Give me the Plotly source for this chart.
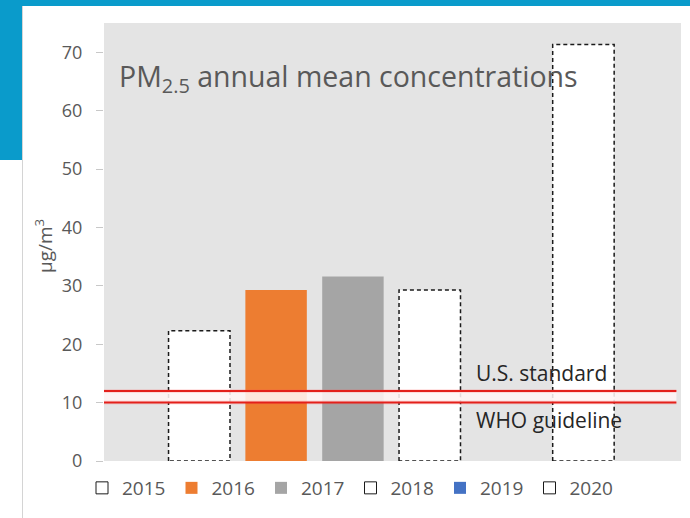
import plotly.graph_objects as go

# PM2.5 annual means by year (µg/m³); no value reported for 2019
years = ["2015", "2016", "2017", "2018", "2019", "2020"]
pm25 = [22.3, 29.3, 31.6, 29.3, None, 71.3]
fill_colors = ["white", "#ED7D31", "#A5A5A5", "white", "#4472C4", "white"]
dashed_outline = [True, False, False, True, False, True]

# Reference limits (µg/m³)
us_standard = 12
who_guideline = 10

y_ticks = [0, 10, 20, 30, 40, 50, 60, 70]

FONT = "Open Sans"
W, H = 690, 518
L, R, T, B = 104, 9, 23, 57
BAR_W = 0.8


def px_to_paper_x(px):
    return (px - L) / (W - L - R)


def px_to_paper_y(py):
    return (H - B - py) / (H - T - B)


fig = go.Figure()

for i, (yr, val, col, dashed) in enumerate(zip(years, pm25, fill_colors, dashed_outline)):
    fig.add_trace(go.Bar(
        x=[i], y=[val], width=BAR_W, name=yr,
        marker=dict(color=col, line=dict(width=0)),
        showlegend=not dashed, legendrank=i,
    ))
    if dashed and val is not None:
        x0, x1 = i - BAR_W / 2, i + BAR_W / 2
        fig.add_trace(go.Scatter(
            x=[x0, x0, x1, x1, x0], y=[0, val, val, 0, 0],
            mode="lines", showlegend=False, hoverinfo="skip",
            line=dict(color="#1a1a1a", width=1.5, dash="4px,3px"),
        ))
        # legend key: white box with dark outline
        fig.add_trace(go.Bar(
            x=[None], y=[None], name=yr, legendrank=i,
            marker=dict(color="white", line=dict(color="#1a1a1a", width=1)),
        ))

shapes = [
    # pale band between the two limit lines
    dict(type="rect", xref="paper", yref="y", x0=0, x1=0.992, y0=who_guideline,
         y1=us_standard, fillcolor="rgba(255,245,245,0.88)", line=dict(width=0),
         layer="above"),
]
for lim in (us_standard, who_guideline):
    shapes.append(dict(type="line", xref="paper", yref="y", x0=0, x1=0.992,
                       y0=lim, y1=lim, line=dict(color="rgba(255,80,80,0.16)", width=4),
                       layer="above"))
    shapes.append(dict(type="line", xref="paper", yref="y", x0=0, x1=0.992,
                       y0=lim, y1=lim, line=dict(color="#E3201B", width=2),
                       layer="above"))

# page frame: blue header band, blue side tab, thin card edge
shapes += [
    dict(type="rect", xref="paper", yref="paper", x0=px_to_paper_x(0), x1=px_to_paper_x(W),
         y0=px_to_paper_y(6), y1=px_to_paper_y(-2), fillcolor="#0A9BCB", line=dict(width=0),
         layer="below"),
    dict(type="rect", xref="paper", yref="paper", x0=px_to_paper_x(-2), x1=px_to_paper_x(22),
         y0=px_to_paper_y(160), y1=px_to_paper_y(0), fillcolor="#0A9BCB", line=dict(width=0),
         layer="below"),
    dict(type="line", xref="paper", yref="paper", x0=px_to_paper_x(22.5), x1=px_to_paper_x(22.5),
         y0=px_to_paper_y(H + 2), y1=px_to_paper_y(6), line=dict(color="#D4D4D4", width=1),
         layer="below"),
]

annotations = [
    dict(text="PM<sub>2.5</sub> annual mean concentrations", xref="paper", yref="paper",
         x=px_to_paper_x(117), y=px_to_paper_y(78), xanchor="left", yanchor="middle",
         showarrow=False, font=dict(family=FONT, size=28.5, color="#595959")),
    dict(text="U.S. standard", xref="paper", yref="y", x=px_to_paper_x(474), y=us_standard,
         xanchor="left", yanchor="bottom", yshift=2, showarrow=False,
         font=dict(family=FONT, size=21, color="#262626")),
    dict(text="WHO guideline", xref="paper", yref="y", x=px_to_paper_x(474), y=who_guideline,
         xanchor="left", yanchor="top", yshift=-1, showarrow=False,
         font=dict(family=FONT, size=21, color="#262626")),
    dict(text="µg/m<sup>3</sup>", xref="paper", yref="paper", x=px_to_paper_x(44),
         y=px_to_paper_y(246), xanchor="center", yanchor="middle", textangle=-90,
         showarrow=False, font=dict(family=FONT, size=19, color="#595959")),
]

fig.update_layout(
    width=W, height=H,
    margin=dict(l=L, r=R, t=T, b=B),
    paper_bgcolor="white", plot_bgcolor="#E4E4E4",
    barmode="overlay",
    showlegend=True,
    legend=dict(orientation="h", x=px_to_paper_x(82), y=px_to_paper_y(488),
                xanchor="left", yanchor="middle", traceorder="normal",
                entrywidth=44.5, entrywidthmode="pixels", itemwidth=30,
                font=dict(family=FONT, size=19, color="#595959"),
                bgcolor="rgba(0,0,0,0)", itemclick=False),
    xaxis=dict(range=[-1.24, 6.27], visible=False, fixedrange=True),
    yaxis=dict(range=[0, 75], tickvals=y_ticks, showgrid=False, zeroline=False,
               ticks="outside", ticklen=7, tickcolor="#C8C8C8", tickwidth=1,
               showline=False, ticklabelstandoff=10,
               tickfont=dict(family=FONT, size=18, color="#595959"), fixedrange=True),
    shapes=shapes,
    annotations=annotations,
)

fig.write_html("out.html")
